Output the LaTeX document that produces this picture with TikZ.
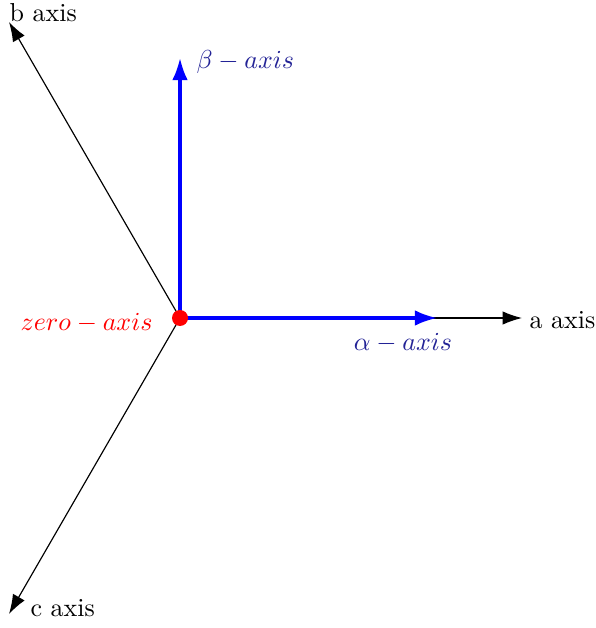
\documentclass[tikz,border=0pt]{standalone}
\usetikzlibrary{arrows.meta}
\definecolor{lblblue}{RGB}{35,35,150}
\begin{document}
\begin{tikzpicture}[x=0.385pt,y=-0.385pt,
  axisline/.style={line width=0.45pt,-{Latex[length=7.5pt,width=5.2pt]}},
  blueline/.style={blue,line width=1.2pt,-{Latex[length=8.5pt,width=6pt]}},
  lbl/.style={inner sep=0pt}]
\useasboundingbox (0,0) rectangle (595,628);
\coordinate (O) at (180,318);
\coordinate (A) at (522,318);
\coordinate (B) at (9,22);
\coordinate (C) at (9,614);
\coordinate (Al) at (437,318);
\coordinate (Be) at (180,58);
\draw[axisline] (O) -- (A);
\draw[axisline] (O) -- (B);
\draw[axisline] (O) -- (C);
\draw[blueline] (O) -- (Al);
\draw[blueline] (O) -- (Be);
\fill[red] (O) circle (8);
\node[lbl,anchor=west] (la) at (529,320) {a axis};
\node[lbl,anchor=base west] (lb) at (9,22) {b axis};
\node[lbl,anchor=base west] (lc) at (30,616) {c axis};
\node[lbl,anchor=west,text=lblblue] (lbe) at (196,62) {$\beta-axis$};
\node[lbl,anchor=center,text=lblblue] (lal) at (403,343) {$\alpha-axis$};
\node[lbl,anchor=east,text=red] (lz) at (153,323) {$zero-axis$};
\end{tikzpicture}
\end{document}
